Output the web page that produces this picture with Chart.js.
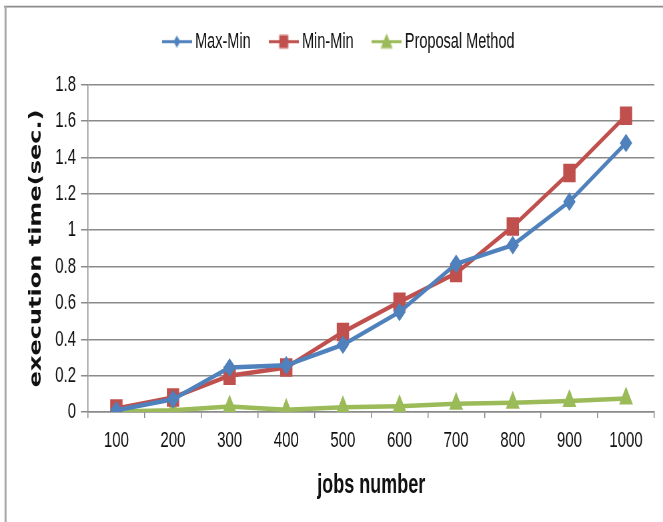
<!DOCTYPE html>
<html>
<head>
<meta charset="utf-8">
<script src="https://cdn.jsdelivr.net/npm/chart.js@4/dist/chart.umd.min.js"></script>
<style>
  html, body { margin: 0; padding: 0; background: #fff; }
  #wrap { position: relative; width: 663px; height: 522px; overflow: hidden; }
  /* the canvas is drawn 663x348 and shown 663x522: a 1.5x vertical stretch */
  #c { position: absolute; left: 0; top: 0; width: 663px !important; height: 522px !important; }
</style>
</head>
<body>
<div id="wrap"><canvas id="c" width="663" height="348"></canvas></div>
<script>
// jobs on the x axis
const jobCounts = ['100', '200', '300', '400', '500', '600', '700', '800', '900', '1000'];

// execution time in seconds
const maxMinTimes   = [0.01, 0.07, 0.245, 0.257, 0.37, 0.55, 0.815, 0.918, 1.157, 1.48];
const minMinTimes   = [0.02, 0.08, 0.20, 0.245, 0.44, 0.606, 0.764, 1.02, 1.315, 1.63];
const proposalTimes = [0.003, 0.01, 0.03, 0.012, 0.027, 0.032, 0.045, 0.051, 0.061, 0.075];

// y axis labels, one per 0.2 step
const timeTicks = ['0', '0.2', '0.4', '0.6', '0.8', '1', '1.2', '1.4', '1.6', '1.8'];

const BLUE = '#4F81BD';
const RED = '#C0504D';
const GREEN = '#9BBB59';
const GRID = '#8a8a8a';

// legend swatch: a short line with the series marker in the middle
function swatch(color, shape) {
  const w = 30, h = 12;
  const cv = document.createElement('canvas');
  cv.width = w; cv.height = h;
  const g = cv.getContext('2d');
  const cy = h / 2, cx = w / 2;
  g.strokeStyle = color; g.fillStyle = color; g.lineWidth = 2;
  g.beginPath(); g.moveTo(0, cy); g.lineTo(w, cy); g.stroke();
  g.beginPath();
  if (shape === 'diamond') {
    g.moveTo(cx - 3.5, cy); g.lineTo(cx, cy - 4); g.lineTo(cx + 3.5, cy); g.lineTo(cx, cy + 4);
  } else if (shape === 'square') {
    g.rect(cx - 4.5, cy - 4.5, 9, 9);
  } else {
    g.moveTo(cx, cy - 5.5); g.lineTo(cx + 6, cy + 4.5); g.lineTo(cx - 6, cy + 4.5);
  }
  g.closePath(); g.fill();
  return cv;
}

const swatches = [swatch(BLUE, 'diamond'), swatch(RED, 'square'), swatch(GREEN, 'triangle')];

// white page with the grey frame along the top and left edges
const framePlugin = {
  id: 'frame',
  beforeDraw(chart) {
    const c = chart.ctx;
    c.save();
    c.fillStyle = '#fff';
    c.fillRect(0, 0, chart.width, chart.height);
    c.strokeStyle = '#8c8c8c';
    c.lineWidth = 1.3;
    c.beginPath(); c.moveTo(4, 4.4); c.lineTo(chart.width, 4.4); c.stroke();
    c.strokeStyle = '#a8a8a8';
    c.lineWidth = 2;
    c.beginPath(); c.moveTo(5.5, 4); c.lineTo(5.5, chart.height); c.stroke();
    c.restore();
  }
};

// lift the legend row and centre it over the plot rather than the whole box
const legendPlacement = {
  id: 'legendPlacement',
  afterLayout(chart) {
    const lg = chart.legend;
    if (!lg) return;
    const dy = -11.5, dx = 13;
    lg.top += dy; lg.bottom += dy;
    lg.left += dx; lg.right += dx;
  }
};

new Chart(document.getElementById('c'), {
  type: 'line',
  data: {
    labels: jobCounts,
    datasets: [
      {
        label: 'Max-Min', data: maxMinTimes,
        borderColor: BLUE, backgroundColor: BLUE, borderWidth: 3,
        pointStyle: 'rectRot', pointRadius: 5.5, pointBorderWidth: 1,
        pointBackgroundColor: BLUE, pointBorderColor: BLUE, tension: 0
      },
      {
        label: 'Min-Min', data: minMinTimes,
        borderColor: RED, backgroundColor: RED, borderWidth: 3,
        pointStyle: 'rect', pointRadius: 8, pointBorderWidth: 1,
        pointBackgroundColor: RED, pointBorderColor: RED, tension: 0
      },
      {
        label: 'Proposal Method', data: proposalTimes,
        borderColor: GREEN, backgroundColor: GREEN, borderWidth: 3,
        pointStyle: 'triangle', pointRadius: 7, pointBorderWidth: 1,
        pointBackgroundColor: GREEN, pointBorderColor: GREEN, tension: 0
      }
    ]
  },
  options: {
    responsive: false,
    devicePixelRatio: 1.5,
    animation: false,
    layout: { padding: { top: 10, right: 9, bottom: 0, left: 0 } },
    plugins: {
      tooltip: { enabled: false },
      legend: {
        display: true,
        position: 'top',
        align: 'center',
        labels: {
          usePointStyle: true,
          pointStyleWidth: 22,
          padding: 22,
          color: '#111',
          font: { family: '"Liberation Sans", Arial, sans-serif', size: 14.5 },
          generateLabels(chart) {
            return chart.data.datasets.map((ds, i) => ({
              text: ds.label,
              pointStyle: swatches[i],
              fillStyle: ds.borderColor,
              strokeStyle: ds.borderColor,
              lineWidth: 0,
              hidden: false,
              datasetIndex: i,
              fontColor: '#111'
            }));
          }
        }
      }
    },
    scales: {
      x: {
        type: 'category',
        offset: true,
        afterFit(scale) { scale.height = 73.3; },
        grid: {
          display: true, drawOnChartArea: false, drawTicks: true,
          offset: true, tickLength: 4, color: GRID, lineWidth: 1
        },
        border: { display: true, color: GRID, width: 1 },
        ticks: {
          padding: 6, color: '#111', maxRotation: 0,
          font: { family: '"Liberation Sans", Arial, sans-serif', size: 15 }
        },
        title: {
          display: true, text: 'jobs number', color: '#111',
          padding: { top: 0, bottom: 13.5 },
          font: { family: '"Liberation Sans", Arial, sans-serif', size: 18, weight: 'bold' }
        }
      },
      y: {
        min: 0, max: 1.8,
        afterFit(scale) { scale.width = 88; },
        grid: {
          display: true, drawOnChartArea: true, drawTicks: true,
          tickLength: 7, color: GRID, lineWidth: 1
        },
        border: { display: true, color: GRID, width: 1 },
        ticks: {
          stepSize: 0.2, padding: 5, color: '#111',
          font: { family: '"Liberation Sans", Arial, sans-serif', size: 15 },
          callback(value, index) { return timeTicks[index]; }
        },
        title: {
          display: true, text: 'execution time(sec.)', color: '#111',
          padding: { top: 27, bottom: 0 },
          font: { family: '"DejaVu Sans", Verdana, sans-serif', size: 16, weight: 'bold' }
        }
      }
    }
  },
  plugins: [framePlugin, legendPlacement]
});
</script>
</body>
</html>
